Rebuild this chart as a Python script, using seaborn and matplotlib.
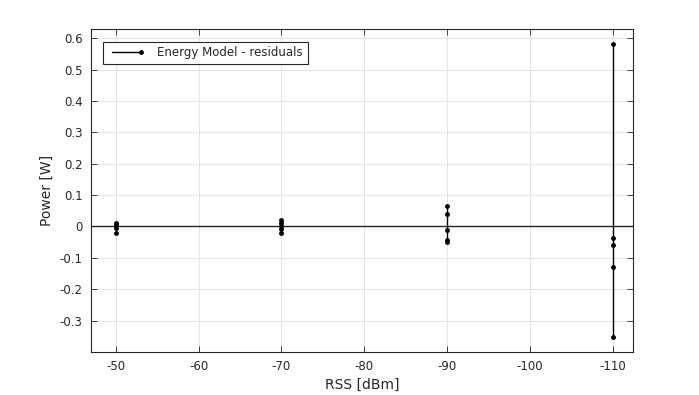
import pandas as pd
import matplotlib
matplotlib.use("Agg")
import matplotlib.pyplot as plt
import seaborn as sns
from matplotlib.lines import Line2D
from matplotlib.legend_handler import HandlerLine2D

# residuals, grouped by RSS level
rss_levels = [-50, -70, -90, -110]
res_m50 = [0.011, 0.004, -0.006, -0.020]
res_m70 = [0.021, 0.011, 0.001, -0.008, -0.022]
res_m90 = [0.066, 0.040, -0.011, -0.043, -0.048]
res_m110 = [0.583, -0.036, -0.058, -0.129, -0.351]

x_ticks = [-50, -60, -70, -80, -90, -100, -110]
y_ticks = [-0.3, -0.2, -0.1, 0, 0.1, 0.2, 0.3, 0.4, 0.5, 0.6]
y_ticklabels = ["-0.3", "-0.2", "-0.1", "0", "0.1", "0.2", "0.3", "0.4", "0.5", "0.6"]

rows = []
for rss, vals in zip(rss_levels, [res_m50, res_m70, res_m90, res_m110]):
    for v in vals:
        rows.append({"rss": rss, "res": v})
df = pd.DataFrame(rows)


class EndMarkerHandler(HandlerLine2D):
    # matlab style legend: marker sits at the right end of the line
    def create_artists(self, *args, **kwargs):
        arts = super().create_artists(*args, **kwargs)
        for a in arts:
            n = len(a.get_xdata())
            a.set_markevery([n - 1])
        return arts


sns.set_style("whitegrid")
plt.rcParams["font.family"] = ["DejaVu Sans"]

fig = plt.figure(figsize=(6.99, 3.95), dpi=100)
ax = fig.add_axes([0.130, 0.109, 0.776, 0.818])

# zero line
ax.axhline(0, color="#262626", linewidth=1.0, zorder=2)

sns.lineplot(data=df, x="rss", y="res", units="rss", estimator=None, sort=False,
             color="black", marker="o", markersize=3.5, markeredgewidth=0,
             linewidth=1.0, ax=ax, zorder=3)

ax.set_xlim(-47, -112.5)
ax.set_ylim(-0.4, 0.63)
ax.set_xticks(x_ticks)
ax.set_xticklabels([str(t) for t in x_ticks])
ax.set_yticks(y_ticks)
ax.set_yticklabels(y_ticklabels)

ax.grid(True, color="#e3e3e3", linewidth=0.7)
for s in ax.spines.values():
    s.set_color("#262626")
    s.set_linewidth(0.8)
ax.tick_params(direction="in", length=4, width=0.6, color="#262626",
               labelsize=8.5, labelcolor="#262626", top=True, right=True,
               bottom=True, left=True, pad=6)

ax.set_xlabel("RSS [dBm]", fontsize=10, color="#262626", labelpad=3)
ax.set_ylabel("Power [W]", fontsize=10, color="#262626", labelpad=4)

handle = Line2D([], [], color="black", marker="o", markersize=3.5,
                markeredgewidth=0, linewidth=1.0)
leg = ax.legend([handle], ["Energy Model - residuals"], loc="upper left",
                fontsize=8.5, frameon=True, fancybox=False, framealpha=1,
                edgecolor="#262626", handlelength=2.82, handletextpad=1.4,
                borderpad=0.4, borderaxespad=0, numpoints=1,
                bbox_to_anchor=(0.022, 0.96),
                handler_map={Line2D: EndMarkerHandler(xpad=0.42)})
leg.get_frame().set_linewidth(0.8)

fig.savefig("out.png", dpi=100)
